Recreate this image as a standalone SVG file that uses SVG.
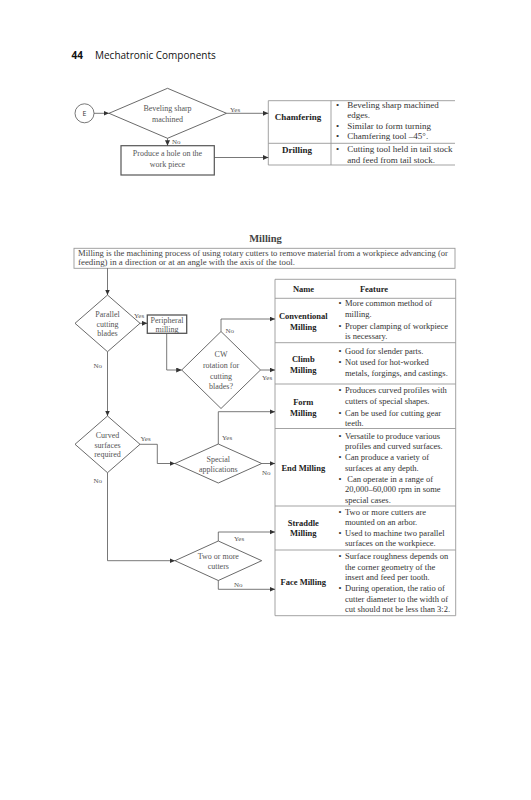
<svg xmlns="http://www.w3.org/2000/svg" width="531" height="800" viewBox="0 0 531 800">
<style>
.bg{fill:#fff}
.hdr{font-family:"Open Sans","Noto Sans",sans-serif;font-size:10px;fill:#111}
.t{font-family:"Liberation Serif","Times New Roman",serif;fill:#444}
.fc{font-size:8px;fill:#555;text-anchor:middle}
.lbl{font-size:7px;fill:#555}
.tb{font-size:9px;fill:#333}
.t2{font-size:8.5px;fill:#333}
.nm{font-weight:bold;text-anchor:middle;fill:#222}
.dia{fill:#fff;stroke:#444;stroke-width:0.8}
.box{fill:#fff;stroke:#555;stroke-width:1.2}
.grid{fill:none;stroke:#999;stroke-width:0.9}
.con{fill:none;stroke:#555;stroke-width:0.8;marker-end:url(#ah)}
</style>
<defs>
<marker id="ah" markerUnits="userSpaceOnUse" markerWidth="6" markerHeight="5" refX="5.5" refY="2.5" orient="auto">
<path d="M0,0 L5.5,2.5 L0,5 Z" fill="#333"/>
</marker>
</defs>
<rect class="bg" x="0" y="0" width="531" height="800"/>

<g id="page-header">
<text class="hdr" x="71.5" y="58.5" font-weight="bold">44</text>
<text class="hdr" x="95" y="58.5">Mechatronic Components</text>
</g>

<!-- Top section -->
<g id="node-E">
<circle cx="84.5" cy="113.3" r="9.5" fill="#fff" stroke="#555" stroke-width="0.8"/>
<text x="84.5" y="115.8" font-family="'Open Sans','Noto Sans',sans-serif" font-size="7" fill="#333" text-anchor="middle">E</text>
</g>
<g id="node-beveling">
<polygon class="dia" points="109,113.3 167.5,88.3 226.5,113.3 167.5,138.3"/>
<text class="t fc" x="167.5" y="110.5">Beveling sharp</text>
<text class="t fc" x="167.5" y="121.5">machined</text>
</g>
<g id="node-hole">
<rect class="box" x="121" y="145.7" width="93.3" height="29.3"/>
<text class="t fc" x="167.5" y="156">Produce a hole on the</text>
<text class="t fc" x="167.5" y="166.5">work piece</text>
</g>
<g id="table-turning">
<path class="grid" d="M268.3,100.7 H455 M268.3,143.3 H455 M268.3,165 H455 M268.3,100.7 V165 M331,100.7 V165"/>
<text class="t tb nm" x="298" y="120">Chamfering</text>
<text class="t tb nm" x="297" y="152.5">Drilling</text>
<g class="t tb">
<text x="336" y="107.5">•</text><text x="347.3" y="107.5">Beveling sharp machined</text>
<text x="347.3" y="117.8">edges.</text>
<text x="336" y="128.5">•</text><text x="347.3" y="128.5">Similar to form turning</text>
<text x="336" y="139.3">•</text><text x="347.3" y="139.3">Chamfering tool –45°.</text>
<text x="336" y="152">•</text><text x="347.3" y="152">Cutting tool held in tail stock</text>
<text x="347.3" y="162.5">and feed from tail stock.</text>
</g>
</g>

<!-- Milling section -->
<g id="title-milling">
<text class="t" x="265.5" y="242" font-size="10.5" font-weight="bold" fill="#222" text-anchor="middle">Milling</text>
</g>
<g id="node-definition">
<rect x="74" y="248.3" width="381" height="20" fill="#fff" stroke="#999" stroke-width="0.9"/>
<text class="t" x="78" y="255.5" font-size="8.5" fill="#333" textLength="370" lengthAdjust="spacingAndGlyphs">Milling is the machining process of using rotary cutters to remove material from a workpiece advancing (or</text>
<text class="t" x="78" y="265" font-size="8.5" fill="#333" textLength="217" lengthAdjust="spacingAndGlyphs">feeding) in a direction or at an angle with the axis of the tool.</text>
</g>
<g id="node-parallel">
<polygon class="dia" points="75,323.3 107.5,295 140,323.3 107.5,351.7"/>
<text class="t fc" x="107.5" y="316.5">Parallel</text>
<text class="t fc" x="107.5" y="326.5">cutting</text>
<text class="t fc" x="107.5" y="336">blades</text>
</g>
<g id="node-peripheral">
<rect x="147.3" y="315" width="39.4" height="18.3" fill="#fff" stroke="#555" stroke-width="1.3"/>
<text class="t fc" x="167" y="322.5">Peripheral</text>
<text class="t fc" x="167" y="331.5">milling</text>
</g>
<g id="node-cw">
<polygon class="dia" points="181.7,370 221,331.5 260.5,370 221,408.5"/>
<text class="t fc" x="221" y="357">CW</text>
<text class="t fc" x="221" y="368">rotation for</text>
<text class="t fc" x="221" y="378.5">cutting</text>
<text class="t fc" x="221" y="389">blades?</text>
</g>
<g id="node-curved">
<polygon class="dia" points="75,444.3 107.5,416 140,444.3 107.5,472.7"/>
<text class="t fc" x="107.5" y="437.5">Curved</text>
<text class="t fc" x="107.5" y="447.5">surfaces</text>
<text class="t fc" x="107.5" y="457">required</text>
</g>
<g id="node-special">
<polygon class="dia" points="175,463.5 218.3,444 261.7,463.5 218.3,483"/>
<text class="t fc" x="218.3" y="462">Special</text>
<text class="t fc" x="218.3" y="472">applications</text>
</g>
<g id="node-two-cutters">
<polygon class="dia" points="175,560.7 218.3,541 261.7,560.7 218.3,580.5"/>
<text class="t fc" x="218.3" y="559">Two or more</text>
<text class="t fc" x="218.3" y="569">cutters</text>
</g>

<g id="table-milling">
<path class="grid" d="M275,279.3 H455.7 V615.7 H275 Z M275,298.3 H455.7 M275,342.7 H455.7 M275,384 H455.7 M275,428.5 H455.7 M275,506 H455.7 M275,550 H455.7"/>
<text class="t t2 nm" x="303.5" y="291.5">Name</text>
<text class="t t2 nm" x="374" y="291.5">Feature</text>
<text class="t t2 nm" x="303.3" y="319">Conventional</text>
<text class="t t2 nm" x="303.3" y="329.5">Milling</text>
<text class="t t2 nm" x="303.3" y="362">Climb</text>
<text class="t t2 nm" x="303.3" y="372.5">Milling</text>
<text class="t t2 nm" x="303.3" y="404.5">Form</text>
<text class="t t2 nm" x="303.3" y="415.5">Milling</text>
<text class="t t2 nm" x="303.3" y="471">End Milling</text>
<text class="t t2 nm" x="303.3" y="526">Straddle</text>
<text class="t t2 nm" x="303.3" y="536">Milling</text>
<text class="t t2 nm" x="303.3" y="585">Face Milling</text>
<g class="t t2">
<text x="338.5" y="306">•</text><text x="345" y="306">More common method of</text>
<text x="345" y="317">milling.</text>
<text x="338.5" y="328.5">•</text><text x="345" y="328.5">Proper clamping of workpiece</text>
<text x="345" y="339">is necessary.</text>
<text x="338.5" y="353.5">•</text><text x="345" y="353.5">Good for slender parts.</text>
<text x="338.5" y="364.5">•</text><text x="345" y="364.5">Not used for hot-worked</text>
<text x="345" y="376">metals, forgings, and castings.</text>
<text x="338.5" y="393">•</text><text x="345" y="393">Produces curved profiles with</text>
<text x="345" y="404">cutters of special shapes.</text>
<text x="338.5" y="415.5">•</text><text x="345" y="415.5">Can be used for cutting gear</text>
<text x="345" y="426">teeth.</text>
<text x="338.5" y="438.5">•</text><text x="345" y="438.5">Versatile to produce various</text>
<text x="345" y="449">profiles and curved surfaces.</text>
<text x="338.5" y="460">•</text><text x="345" y="460">Can produce a variety of</text>
<text x="345" y="470.5">surfaces at any depth.</text>
<text x="338.5" y="481.5">•</text><text x="347.3" y="481.5">Can operate in a range of</text>
<text x="345" y="492">20,000–60,000 rpm in some</text>
<text x="345" y="503">special cases.</text>
<text x="338.5" y="514.5">•</text><text x="345" y="514.5">Two or more cutters are</text>
<text x="345" y="525">mounted on an arbor.</text>
<text x="338.5" y="535.5">•</text><text x="345" y="535.5">Used to machine two parallel</text>
<text x="345" y="546">surfaces on the workpiece.</text>
<text x="338.5" y="559">•</text><text x="345" y="559">Surface roughness depends on</text>
<text x="345" y="569.5">the corner geometry of the</text>
<text x="345" y="580">insert and feed per tooth.</text>
<text x="338.5" y="591">•</text><text x="345" y="591">During operation, the ratio of</text>
<text x="345" y="601.5">cutter diameter to the width of</text>
<text x="345" y="612">cut should not be less than 3:2.</text>
</g>
</g>

<g id="connectors">
<path class="con" d="M94,113.3 H109"/>
<path class="con" d="M226.5,113.3 H268.3"/>
<path class="con" d="M167.5,138.3 V145.7"/>
<path class="con" d="M214.3,157.5 H268.3"/>
<path class="con" d="M107.5,268.3 V295"/>
<path class="con" d="M140,323.3 H147.3"/>
<path class="con" d="M166.7,333.3 V370 H181.7"/>
<path class="con" d="M221,331.5 V319 H275"/>
<path class="con" d="M260.5,370 H275"/>
<path class="con" d="M107.5,351.7 V416"/>
<path class="con" d="M140,444.3 H157.3 V463.5 H175"/>
<path class="con" d="M218.3,444 V411.7 H275"/>
<path class="con" d="M261.7,463.5 H275"/>
<path class="con" d="M107.5,472.7 V560.7 H175"/>
<path class="con" d="M218.3,541 V532 H275"/>
<path class="con" d="M218.3,580.5 V589.3 H275"/>
<g class="t lbl">
<text x="230" y="111.5">Yes</text>
<text x="172" y="143.5">No</text>
<text x="134" y="317.5">Yes</text>
<text x="225.5" y="333">No</text>
<text x="262" y="380">Yes</text>
<text x="93.5" y="367.5">No</text>
<text x="140.5" y="440.5">Yes</text>
<text x="222" y="440">Yes</text>
<text x="262" y="475">No</text>
<text x="93.5" y="482.5">No</text>
<text x="234" y="540.5">Yes</text>
<text x="234" y="587">No</text>
</g>
</g>
</svg>
